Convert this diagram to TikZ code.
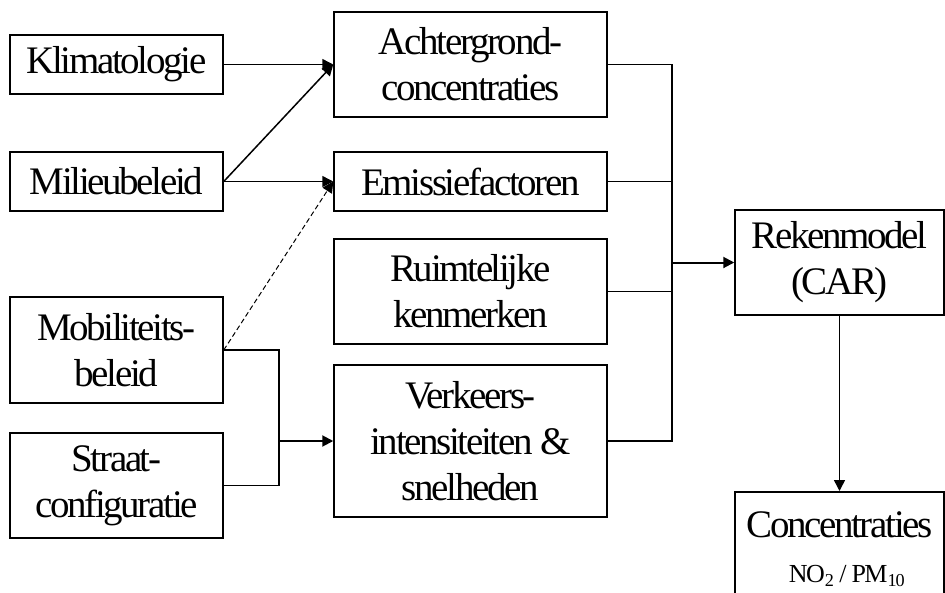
\documentclass[tikz,border=0pt]{standalone}
\usepackage{fontspec}
\setmainfont{Liberation Serif}[LetterSpace=-6]
\usetikzlibrary{arrows.meta}
\begin{document}
\begin{tikzpicture}[x=1pt,y=-1pt,
  box/.style={draw, line width=1.5pt, rectangle, inner sep=0pt, align=center,
    font=\fontsize{39}{46}\selectfont},
  conn/.style={line width=1.5pt},
  arr/.style={line width=1.5pt, -{Triangle[length=11pt,width=11pt]}},
  thickarr/.style={line width=2pt, -{Triangle[length=11pt,width=11pt]}}]
\useasboundingbox (0,0) rectangle (945,592);
\clip (0,0) rectangle (945,592);
\node[box, minimum width=213pt, minimum height=59pt] (klim) at (116.5,64.5) {Klimatologie};
\node[box, minimum width=213pt, minimum height=59pt] (milieu) at (116.5,181.5) {Milieubeleid};
\node[box, minimum width=213pt, minimum height=106pt] (mobil) at (116.5,350) {Mobiliteits-\\beleid};
\node[box, minimum width=213pt, minimum height=105pt] (straat) at (116.5,485.5) {Straat-\\configuratie};
\node[box, minimum width=273pt, minimum height=105pt] (achter) at (470.5,64.5) {Achtergrond-\\concentraties};
\node[box, minimum width=273pt, minimum height=59pt] (emis) at (470.5,181.5) {Emissiefactoren};
\node[box, minimum width=273pt, minimum height=105pt] (ruimt) at (470.5,291.5) {Ruimtelijke\\kenmerken};
\node[box, minimum width=273pt, minimum height=152pt] (verk) at (470.5,441) {Verkeers-\\intensiteiten \&\\snelheden};
\node[box, minimum width=209pt, minimum height=105pt] (reken) at (839.5,262.5) {Rekenmodel\\(CAR)};
\node[box, minimum width=209pt, minimum height=130pt, anchor=north] (conc) at (839.5,491) {};
\node[font=\fontsize{39}{46}\selectfont, inner sep=0pt] (conctext) at (839.5,525) {Concentraties};
\node[font=\fontsize{26}{30}\selectfont, inner sep=0pt] (concsub) at (847,576) {NO\textsubscript{2} / PM\textsubscript{10}};
% left arrows
\draw[arr] (klim.east) -- (achter.west);
\draw[arr] (milieu.east) -- (achter.west);
\draw[arr] (milieu.east) -- (emis.west);
\draw[arr, line width=1pt, dash pattern=on 5pt off 3pt] (mobil.east) -- (emis.west);
% bracket
\coordinate (j1) at (279,441);
\draw[conn] (mobil.east) -- (279,350) |- (straat.east);
\draw[thickarr] (j1) -- (verk.west);
% bus
\coordinate (bus) at (672,262.5);
\draw[conn] (achter.east) -- (672,64.5) |- (verk.east);
\draw[conn] (emis.east) -- (672,181.5);
\draw[conn] (ruimt.east) -- (672,291.5);
\draw[thickarr] (bus) -- (reken.west);
\draw[arr] (reken.south) -- (conc.north);
\end{tikzpicture}
\end{document}
